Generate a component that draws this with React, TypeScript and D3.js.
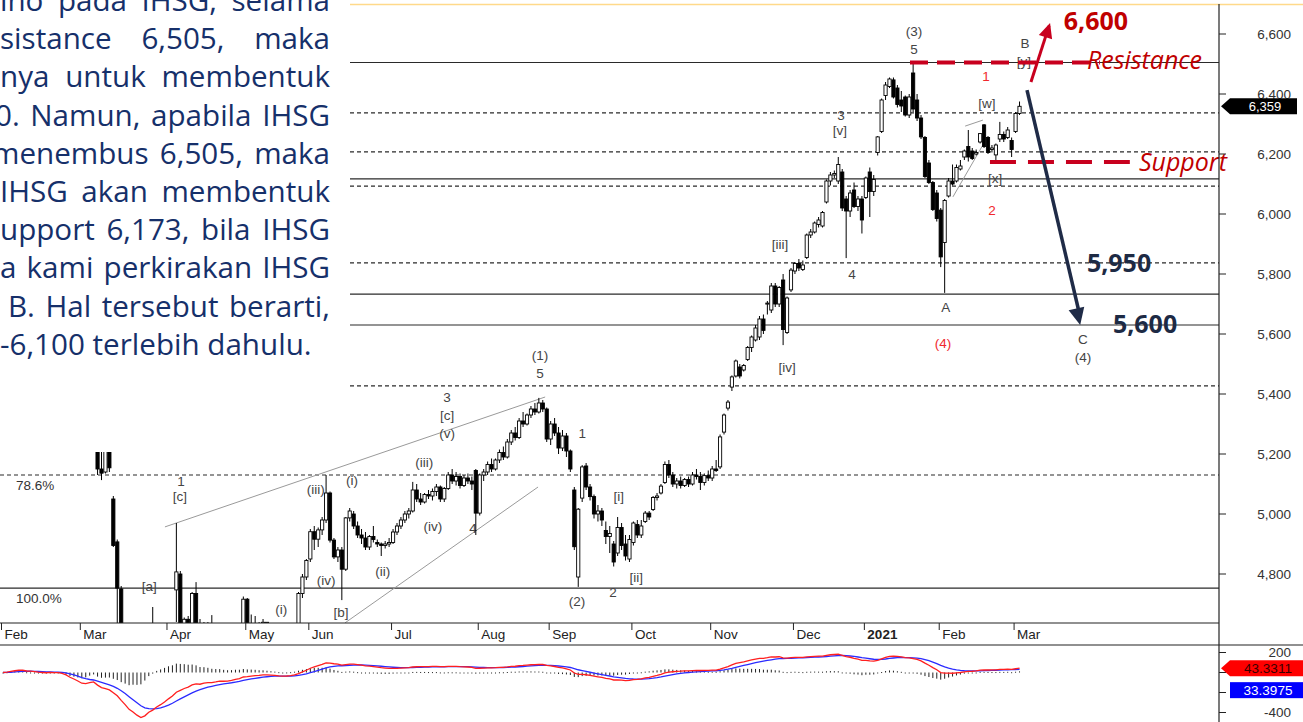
import React from "react";
import * as d3 from "d3";

type C = [number, number, number, number];

// ---- daily OHLC, one array per month ----
const feb20: C[] = [
  [5950,5960,5860,5884],[5890,5935,5870,5922],[5925,5995,5915,5988],[5990,6010,5960,5999],
  [6000,6020,5980,5999],[5990,5995,5930,5952],[5950,5955,5850,5864],[5870,5920,5860,5913],
  [5910,5920,5860,5871],[5875,5890,5850,5866],[5866,5880,5845,5868],[5870,5885,5850,5867],
  [5870,5950,5865,5942],[5940,5945,5860,5875],[5875,5900,5860,5882],[5880,5885,5790,5807],
  [5800,5805,5670,5688],[5680,5690,5520,5536],[5530,5560,5480,5536],[5500,5520,5420,5452],
];
const mar20: C[] = [
  [5450,5460,5300,5361],[5361,5530,5340,5518],[5530,5660,5500,5650],[5650,5690,5600,5638],
  [5400,5420,5130,5150],[5150,5240,5113,5136],[5140,5260,5135,5220],[5220,5230,5140,5154],
  [5050,5060,4890,4895],[4907,4915,4600,4753],[4750,4760,4420,4456],[4456,4500,4300,4330],
  [4330,4350,4050,4105],[4105,4250,4050,4195],[4195,4200,3960,3989],[3989,4000,3911,3937],
  [3950,4340,3940,4338],[4338,4560,4330,4545],[4545,4690,4400,4414],[4414,4540,4380,4538],
  [4538,4560,4440,4466],[4466,4540,4430,4531],
];
const apr20: C[] = [
  [4531,4630,4500,4623],[4600,4630,4560,4623],[4747,4970,4640,4807],[4800,4810,4600,4626],
  [4626,4655,4590,4649],[4649,4660,4600,4623],[4623,4740,4610,4735],[4735,4773,4620,4625],
  [4625,4650,4470,4480],[4480,4640,4470,4635],[4635,4640,4560,4575],[4575,4663,4490,4501],
  [4501,4580,4480,4567],[4567,4620,4550,4594],[4594,4600,4480,4496],[4496,4530,4470,4513],
  [4513,4580,4500,4567],[4567,4630,4560,4626],[4626,4630,4560,4600],[4610,4725,4600,4716],
];
const may20: C[] = [
  [4716,4720,4590,4605],[4605,4665,4600,4630],[4630,4660,4600,4627],[4627,4640,4580,4597],
  [4597,4650,4580,4639],[4639,4640,4570,4588],[4588,4600,4550,4573],[4573,4590,4520,4550],
  [4550,4560,4490,4507],[4507,4530,4480,4511],[4511,4560,4500,4547],[4547,4590,4540,4575],
  [4575,4635,4570,4626],[4630,4740,4620,4735],[4735,4800,4720,4790],[4790,4850,4780,4845],
];
const jun20: C[] = [
  [4850,4950,4840,4941],[4941,4960,4880,4916],[4916,4955,4890,4947],[4947,4990,4930,4980],
  [4980,5130,4970,5070],[5070,5075,4905,4913],[4913,4920,4850,4857],[4857,4890,4840,4880],
  [4880,4890,4713,4816],[4816,4990,4810,4987],[4987,5020,4975,5010],[5000,5010,4950,4960],
  [4960,4975,4920,4930],[4930,4950,4900,4920],[4920,4940,4880,4890],[4890,4930,4880,4925],
  [4925,4960,4905,4915],[4905,4915,4890,4900],[4900,4905,4860,4895],[4895,4910,4885,4900],
  [4900,4920,4890,4905],
];
const jul20: C[] = [
  [4905,4950,4900,4940],[4940,4970,4930,4960],[4960,4990,4950,4980],[4980,5010,4970,5000],
  [5000,5020,4985,5010],[5010,5107,5005,5080],[5080,5100,5040,5050],[5050,5070,5030,5040],
  [5040,5070,5035,5065],[5065,5080,5050,5060],[5060,5085,5045,5075],[5075,5100,5060,5090],
  [5090,5095,5040,5050],[5050,5090,5040,5085],[5085,5140,5080,5130],[5130,5150,5100,5110],
  [5110,5140,5095,5125],[5125,5135,5085,5095],[5095,5130,5090,5120],[5120,5135,5100,5110],
  [5110,5125,5080,5100],[5145,5150,4930,5003],
];
const aug20: C[] = [
  [5003,5135,4995,5130],[5130,5150,5110,5140],[5140,5175,5130,5165],[5165,5185,5140,5150],
  [5150,5185,5145,5180],[5180,5215,5170,5205],[5205,5225,5180,5190],[5190,5250,5185,5240],
  [5240,5280,5230,5270],[5270,5290,5245,5255],[5255,5320,5250,5310],[5310,5340,5290,5300],
  [5300,5335,5295,5330],[5330,5360,5320,5350],[5350,5370,5330,5340],[5340,5387,5335,5370],
  [5370,5380,5340,5350],[5350,5355,5240,5250],
];
const sep20: C[] = [
  [5250,5310,5230,5300],[5300,5320,5260,5270],[5270,5290,5200,5220],[5220,5280,5210,5260],
  [5260,5270,5190,5210],[5210,5215,5140,5150],[5080,5090,4880,4891],[4790,5020,4757,5016],
  [5053,5163,5040,5157],[5160,5170,5080,5090],[5090,5100,5045,5058],[5058,5065,4985,5000],
  [5000,5030,4975,5010],[5010,5020,4960,4980],[4945,4975,4900,4925],[4925,4960,4870,4935],
  [4900,4910,4825,4840],[4870,4990,4860,4955],[4955,4970,4880,4895],[4900,4930,4845,4860],
  [4850,4930,4840,4915],
];
const oct20: C[] = [
  [4905,4975,4895,4970],[4965,4980,4920,4930],[4930,4980,4920,4960],[4975,5010,4970,5003],
  [5003,5010,4980,4990],[5015,5060,5010,5055],[5055,5070,5045,5060],[5070,5100,5065,5093],
  [5105,5175,5100,5165],[5165,5180,5120,5130],[5130,5140,5090,5100],[5100,5120,5085,5110],
  [5110,5125,5085,5095],[5095,5120,5090,5115],[5115,5125,5090,5100],[5100,5140,5095,5130],
  [5130,5150,5115,5125],[5125,5140,5080,5105],[5105,5135,5095,5128],[5128,5145,5110,5120],
];
const nov20: C[] = [
  [5120,5160,5110,5150],[5150,5180,5140,5145],[5157,5265,5150,5257],[5273,5335,5265,5330],
  [5353,5380,5345,5373],[5423,5462,5410,5457],[5460,5515,5455,5510],[5490,5500,5452,5460],
  [5480,5500,5475,5495],[5515,5560,5510,5555],[5555,5595,5540,5590],[5580,5630,5575,5620],
  [5590,5660,5580,5650],[5650,5665,5600,5612],[5700,5710,5665,5703],[5680,5770,5670,5760],
  [5760,5770,5690,5700],[5700,5760,5690,5755],[5780,5800,5563,5615],[5605,5725,5600,5720],
  [5747,5820,5740,5813],
];
const dec20: C[] = [
  [5810,5840,5800,5835],[5835,5850,5810,5820],[5815,5845,5810,5830],[5855,5935,5850,5930],
  [5930,5950,5920,5940],[5940,5975,5935,5970],[5965,5990,5955,5980],[5960,6010,5955,6005],
  [6040,6115,6035,6110],[6110,6140,6095,6130],[6130,6145,6120,6135],[6110,6190,6100,6165],
  [6140,6150,6010,6020],[6050,6060,5853,6010],[6010,6080,5990,6070],[6080,6105,6020,6025],
  [6025,6060,6010,6050],[6050,6060,5935,5980],
];
const jan21: C[] = [
  [6055,6125,6050,6120],[6140,6155,5990,6075],[6075,6130,6060,6115],[6205,6260,6195,6257],
  [6275,6385,6270,6380],[6395,6440,6380,6430],[6425,6455,6420,6450],[6447,6455,6385,6390],
  [6420,6430,6355,6365],[6380,6410,6340,6360],[6390,6395,6325,6330],[6330,6400,6320,6390],
  [6470,6505,6340,6350],[6380,6400,6310,6320],[6320,6330,6250,6257],[6255,6260,6120,6125],
  [6170,6180,6100,6105],[6105,6110,6010,6015],[6070,6080,5975,5985],
];
const feb21: C[] = [
  [6013,6020,5823,5857],[5905,6050,5737,6045],[6060,6120,6055,6110],[6110,6165,6095,6100],
  [6110,6165,6105,6155],[6150,6180,6145,6160],[6190,6215,6180,6210],[6225,6280,6175,6190],
  [6210,6220,6180,6185],[6200,6215,6195,6205],[6240,6270,6235,6268],[6297,6300,6220,6225],
  [6255,6260,6200,6205],[6215,6230,6205,6220],[6197,6235,6170,6230],[6250,6307,6240,6265],
  [6265,6275,6240,6250],[6255,6290,6250,6280],[6245,6255,6190,6215],
];
const mar21: C[] = [[6275,6340,6270,6335],[6335,6375,6330,6359]];

const months: C[][] = [feb20, mar20, apr20, may20, jun20, jul20, aug20, sep20, oct20, nov20, dec20, jan21, feb21, mar21];
const monthLabels = ["Feb", "Mar", "Apr", "May", "Jun", "Jul", "Aug", "Sep", "Oct", "Nov", "Dec", "2021", "Feb", "Mar"];

const priceTicks = [4800, 5000, 5200, 5400, 5600, 5800, 6000, 6200, 6400, 6600];
const macdTicks = [200, 0, -200, -400];
const macdLabelled = [200, -400];
const solidLevels = [6505, 6117, 5733, 5630, 4753];
const dottedLevels = [6337, 6207, 6093, 5837, 5427, 5130];
const fibLevels: [string, number][] = [["78.6%", 5130], ["100.0%", 4753]];
const lastPrice = 6359;
const lastMacd = 43.3311;
const lastSignal = 33.3975;
const resistance = 6505;
const support = 6173;

// wave labels: text, bar index, price, red?
const waveLabels: [string, number, number, number][] = [
  ["(3)", 231.2, 6607, 0], ["5", 231.2, 6547, 0], ["B", 259.4, 6570, 0], ["[y]", 259.1, 6510, 0],
  ["1", 249.5, 6457, 1], ["[w]", 249.7, 6370, 0], ["3", 212.7, 6330, 0], ["[v]", 212.4, 6277, 0],
  ["[x]", 251.8, 6120, 0], ["2", 251.0, 6013, 1], ["[iii]", 197.2, 5900, 0], ["4", 215.5, 5797, 0],
  ["A", 239.3, 5687, 0], ["(4)", 238.6, 5570, 1], ["C", 274.1, 5583, 0], ["(4)", 274.1, 5523, 0],
  ["[iv]", 199.0, 5490, 0], ["(1)", 136.3, 5527, 0], ["5", 136.3, 5470, 0], ["3", 112.7, 5387, 0],
  ["[c]", 112.7, 5327, 0], ["(v)", 112.7, 5267, 0], ["1", 147.0, 5270, 0], ["(iii)", 106.9, 5173, 0],
  ["(i)", 88.6, 5113, 0], ["(iii)", 79.4, 5083, 0], ["1", 45.2, 5110, 0], ["[c]", 44.9, 5057, 0],
  ["[i]", 156.3, 5060, 0], ["(iv)", 109.1, 4957, 0], ["4", 119.3, 4953, 0], ["(ii)", 96.4, 4807, 0],
  ["(iv)", 82.0, 4780, 0], ["[ii]", 160.7, 4787, 0], ["[a]", 37.1, 4757, 0], ["(2)", 145.7, 4707, 0],
  ["2", 154.8, 4737, 0], ["(i)", 70.6, 4683, 0], ["[b]", 85.8, 4673, 0],
];
const trendLines: [number, number][][] = [
  [[41.1, 4957], [137.6, 5390]],
  [[86.8, 4637], [135.8, 5090]],
  [[241.1, 6057], [248.7, 6230]],
  [[244.2, 6293], [248.7, 6313]],
];
const upArrow: [number, number][] = [[260.9, 6440], [265.5, 6627]];
const downArrow: [number, number][] = [[259.9, 6413], [273.4, 5630]];

const paragraph = [
  "ino pada IHSG, selama",
  "sistance 6,505, maka",
  "nya untuk membentuk",
  "0. Namun, apabila IHSG",
  "menembus 6,505, maka",
  "IHSG akan membentuk",
  "upport 6,173, bila IHSG",
  "a kami perkirakan IHSG",
  "B. Hal tersebut berarti,",
  "-6,100 terlebih dahulu.",
];
const paraStart = [0, 0, 0, -5, -8, 0, 0, 0, 8, 0];

const AX = "'Liberation Sans', Arial, sans-serif";
const PF = "'Open Sans', 'Noto Sans', sans-serif";

function measure(t: string, font: string): number {
  try {
    const c = document.createElement("canvas").getContext("2d");
    if (!c) return t.length * 14;
    c.font = font;
    return c.measureText(t).width;
  } catch {
    return t.length * 14;
  }
}

function ema(v: number[], n: number): number[] {
  const k = 2 / (n + 1);
  const out: number[] = [];
  v.forEach((d, i) => out.push(i === 0 ? d : d * k + out[i - 1] * (1 - k)));
  return out;
}

function arrowHead(x1: number, y1: number, x2: number, y2: number, len: number, half: number) {
  const a = Math.atan2(y2 - y1, x2 - x1);
  const bx = x2 - len * Math.cos(a), by = y2 - len * Math.sin(a);
  const px = -Math.sin(a) * half, py = Math.cos(a) * half;
  return `${x2},${y2} ${bx + px},${by + py} ${bx - px},${by - py}`;
}

export default function App() {
  const candles: C[] = months.flat();
  const starts: number[] = [];
  months.reduce((acc, m) => { starts.push(acc); return acc + m.length; }, 0);

  const n = candles.length;
  const x = d3.scaleLinear().domain([0, n - 1]).range([3, 3 + (n - 1) * 3.94]);
  const y = d3.scaleLinear().domain([4800, 6600]).range([574, 34]);
  const ym = d3.scaleLinear().domain([-400, 200]).range([712.5, 652.5]);

  const closes = candles.map((c) => c[3]);
  const e12 = ema(closes, 12), e26 = ema(closes, 26);
  const macd = e12.map((v, i) => v - e26[i]);
  const signal = ema(macd, 9);
  const hist = macd.map((v, i) => v - signal[i]);

  const lineM = d3.line<number>().x((_, i) => x(i)).y((d) => ym(d));

  const axisRight = 1219;
  const plotBottom = 623;

  const pfont = `29.6px "Open Sans"`;
  const spaceW = measure(" ", pfont);

  const ua = upArrow.map(([i, p]) => [x(i), y(p)]);
  const da = downArrow.map(([i, p]) => [x(i), y(p)]);

  return (
    <div style={{ position: "absolute", left: 0, top: 0, width: 1303, height: 722, background: "#fff" }}>
      <svg width={1303} height={722} style={{ display: "block" }}>
        <defs>
          <clipPath id="plot"><rect x={0} y={4} width={axisRight} height={plotBottom - 4} /></clipPath>
          <clipPath id="mpanel"><rect x={0} y={646} width={axisRight} height={76} /></clipPath>
        </defs>
        <rect width={1303} height={722} fill="#fff" />

        <g clipPath="url(#plot)">
          {solidLevels.map((v) => (
            <line key={"s" + v} x1={0} x2={axisRight} y1={y(v)} y2={y(v)} stroke="#2a2a2a" strokeWidth={1.2} />
          ))}
          {dottedLevels.map((v) => (
            <line key={"d" + v} x1={0} x2={axisRight} y1={y(v)} y2={y(v)} stroke="#2a2a2a" strokeWidth={1.1} strokeDasharray="4 3" />
          ))}
          {trendLines.map((l, k) => (
            <line key={"t" + k} x1={x(l[0][0])} y1={y(l[0][1])} x2={x(l[1][0])} y2={y(l[1][1])} stroke="#9a9a9a" strokeWidth={1} />
          ))}
          {waveLabels.map(([t, i, p, r], k) => (
            <text key={"w" + k} x={x(i)} y={y(p)} textAnchor="middle" dominantBaseline="central"
              fontFamily={AX} fontSize={13.5} fill={r ? "#f0282d" : "#444"}>{t}</text>
          ))}
          {candles.map((c, i) => {
            const [o, h, l, cl] = c;
            const cx = x(i);
            const up = cl >= o;
            const top = y(Math.max(o, cl)), bot = y(Math.min(o, cl));
            return (
              <g key={i}>
                <line x1={cx} x2={cx} y1={y(h)} y2={y(l)} stroke="#000" strokeWidth={1} />
                <rect x={cx - 1.6} y={top} width={3.2} height={Math.max(1, bot - top)}
                  fill={up ? "#fff" : "#000"} stroke="#000" strokeWidth={0.9} />
              </g>
            );
          })}
          {/* resistance / support */}
          <line x1={x(230.2)} x2={x(278.4)} y1={y(resistance)} y2={y(resistance)} stroke="#c8001e" strokeWidth={4} strokeDasharray="18 9" />
          <line x1={x(250.5)} x2={x(286)} y1={y(support)} y2={y(support)} stroke="#c8001e" strokeWidth={4} strokeDasharray="26 12" />
        </g>

        {/* arrows */}
        <line x1={ua[0][0]} y1={ua[0][1]} x2={ua[1][0]} y2={ua[1][1]} stroke="#c8001e" strokeWidth={3} />
        <polygon points={arrowHead(ua[0][0], ua[0][1], ua[1][0] + 1, ua[1][1] - 3, 15, 7)} fill="#c8001e" />
        <line x1={da[0][0]} y1={da[0][1]} x2={da[1][0]} y2={da[1][1] - 8} stroke="#1f2b47" strokeWidth={3.5} />
        <polygon points={arrowHead(da[0][0], da[0][1], da[1][0], da[1][1], 17, 8)} fill="#1f2b47" />

        {/* big annotation text */}
        <text x={x(277.4)} y={y(6613)} textAnchor="middle" fontFamily={PF} fontWeight={700} fontSize={25} fill="#c00000">6,600</text>
        <text x={x(275.1)} y={y(6483)} fontFamily={PF} fontStyle="italic" fontSize={25} fill="#c00000">Resistance</text>
        <text x={x(288.3)} y={y(6143)} fontFamily={PF} fontStyle="italic" fontSize={25} fill="#c00000">Support</text>
        <text x={x(275.1)} y={y(5807)} fontFamily={PF} fontWeight={700} fontSize={25} fill="#1d2a44">5,950</text>
        <text x={x(281.7)} y={y(5603)} fontFamily={PF} fontWeight={700} fontSize={25} fill="#1d2a44">5,600</text>

        {/* fib labels */}
        {fibLevels.map(([t, v]) => (
          <text key={t} x={16} y={y(v) + 10} dominantBaseline="central" fontFamily={AX} fontSize={13.5} fill="#333">{t}</text>
        ))}

        {/* text box overlay */}
        <rect x={0} y={0} width={350} height={452} fill="#fff" />
        {paragraph.map((line, k) => {
          const words = line.split(" ");
          const ws = words.map((w) => measure(w, pfont));
          const total = d3.sum(ws);
          const start = paraStart[k];
          const justify = k < paragraph.length - 1 && words.length > 1;
          const gap = justify ? (330 - start - total) / (words.length - 1) : spaceW;
          let cx = start;
          const by = 11 + 38.2 * k;
          return (
            <g key={"p" + k}>
              {words.map((w, j) => {
                const el = <text key={j} x={cx} y={by} fontFamily={PF} fontSize={29.6} fill="#16306a">{w}</text>;
                cx += ws[j] + gap;
                return el;
              })}
            </g>
          );
        })}

        {/* top border */}
        <line x1={350} x2={1303} y1={4.5} y2={4.5} stroke="#ffd98a" strokeWidth={1.5} />

        {/* price axis */}
        <line x1={axisRight} x2={axisRight} y1={4} y2={722} stroke="#222" strokeWidth={1.2} />
        {priceTicks.map((v) => (
          <g key={"pt" + v}>
            <line x1={axisRight} x2={axisRight + 7} y1={y(v)} y2={y(v)} stroke="#222" />
            <text x={1291} y={y(v)} textAnchor="end" dominantBaseline="central" fontFamily={AX} fontSize={13.5} fill="#333">{d3.format(",")(v)}</text>
          </g>
        ))}
        <polygon points={`${axisRight + 2},${y(lastPrice)} ${axisRight + 11},${y(lastPrice) - 8} 1297,${y(lastPrice) - 8} 1297,${y(lastPrice) + 8} ${axisRight + 11},${y(lastPrice) + 8}`} fill="#000" />
        <text x={1265} y={y(lastPrice)} textAnchor="middle" dominantBaseline="central" fontFamily={AX} fontSize={13} fill="#fff">{d3.format(",")(lastPrice)}</text>

        {/* x axis band */}
        <line x1={0} x2={axisRight} y1={plotBottom} y2={plotBottom} stroke="#222" strokeWidth={1.2} />
        <line x1={0} x2={1303} y1={645} y2={645} stroke="#222" strokeWidth={1.2} />
        {monthLabels.map((m, k) => {
          const tx = x(starts[k]) - 1.5;
          return (
            <g key={"m" + k}>
              <line x1={tx} x2={tx} y1={plotBottom} y2={plotBottom + 7} stroke="#222" />
              <text x={tx + 3} y={639} fontFamily={AX} fontSize={13.5} fontWeight={m === "2021" ? 700 : 400} fill="#222">{m}</text>
            </g>
          );
        })}

        {/* MACD panel */}
        <g clipPath="url(#mpanel)">
          {hist.map((h, i) => {
            const y0 = ym(0), y1 = ym(h);
            return <rect key={"h" + i} x={x(i) - 0.5} y={Math.min(y0, y1)} width={1} height={Math.max(1, Math.abs(y1 - y0))} fill="#222" />;
          })}
          <path d={lineM(signal) || ""} fill="none" stroke="#2b2bff" strokeWidth={1.3} />
          <path d={lineM(macd) || ""} fill="none" stroke="#ff1f1f" strokeWidth={1.3} />
        </g>
        {macdTicks.map((v) => (
          <line key={"mt" + v} x1={axisRight} x2={axisRight + 7} y1={ym(v)} y2={ym(v)} stroke="#222" />
        ))}
        {macdLabelled.map((v) => (
          <text key={"ml" + v} x={1291} y={ym(v)} textAnchor="end" dominantBaseline="central" fontFamily={AX} fontSize={13.5} fill="#333">{v}</text>
        ))}
        <polygon points={`${axisRight + 2},${ym(lastMacd)} ${axisRight + 11},${ym(lastMacd) - 8} 1303,${ym(lastMacd) - 8} 1303,${ym(lastMacd) + 8} ${axisRight + 11},${ym(lastMacd) + 8}`} fill="#ff0000" />
        <text x={1268} y={ym(lastMacd)} textAnchor="middle" dominantBaseline="central" fontFamily={AX} fontSize={13.5} fill="#3a0000">{lastMacd.toFixed(4)}</text>
        <rect x={axisRight + 11} y={ym(lastSignal) + 13} width={1303 - axisRight - 11} height={16} fill="#0000ff" />
        <text x={1268} y={ym(lastSignal) + 21} textAnchor="middle" dominantBaseline="central" fontFamily={AX} fontSize={13.5} fill="#fff">{lastSignal.toFixed(4)}</text>
      </svg>
    </div>
  );
}
